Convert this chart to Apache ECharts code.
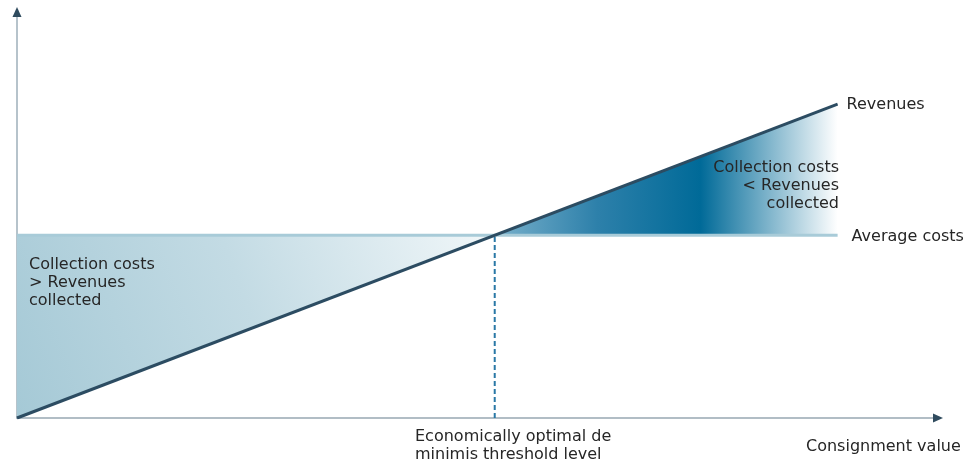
<!DOCTYPE html>
<html><head><meta charset="utf-8">
<script src="https://cdn.jsdelivr.net/npm/echarts@6/dist/echarts.min.js"></script>
<style>html,body{margin:0;padding:0;background:#fff}#c{width:967px;height:464px}</style>
</head><body><div id="c"></div>
<script>
// Data
const revenueX = [0, 89.1];
const revenueY = [0, 77.3];
const averageCosts = 45;
const thresholdX = 51.87;
const revenueLabel = 'Revenues';
const costLabel = 'Average costs';
const xAxisName = 'Consignment value';
const thresholdLabel = 'Economically optimal de\nminimis threshold level';
const leftRegionLabel = 'Collection costs\n> Revenues\ncollected';
const rightRegionLabel = 'Collection costs\n< Revenues\ncollected';

const FONT = 'DejaVu Sans';
const TXT = '#262626';
const chart = echarts.init(document.getElementById('c'));

function poly(pts, fill) {
  return function (params, api) {
    return { type: 'polygon', shape: { points: pts.map(p => api.coord(p)) }, style: { fill: fill } };
  };
}
const leftPts = [[0, 0], [0, averageCosts], [thresholdX, averageCosts]];
const rightPts = [[thresholdX, averageCosts], [revenueX[1], revenueY[1]], [revenueX[1], averageCosts]];

const hidden = { axisTick: { show: false }, axisLabel: { show: false }, splitLine: { show: false } };

chart.setOption({
  animation: false,
  grid: { left: 17, right: 29, top: 12, bottom: 46 },
  xAxis: [
    Object.assign({ type: 'value', min: 0, max: 100,
      axisLine: { show: true, lineStyle: { color: '#98a8b3', width: 1.5 } } }, hidden),
    Object.assign({ type: 'value', min: 0, max: 100, position: 'bottom',
      axisLine: { show: true, symbol: ['none', 'triangle'], symbolSize: [9, 10], lineStyle: { color: '#2f4b5e', width: 0 } } }, hidden)
  ],
  yAxis: [
    Object.assign({ type: 'value', min: 0, max: 100,
      axisLine: { show: true, lineStyle: { color: '#b6c3cb', width: 2 } } }, hidden),
    Object.assign({ type: 'value', min: 0, max: 100, position: 'left',
      axisLine: { show: true, symbol: ['none', 'triangle'], symbolSize: [9, 10], lineStyle: { color: '#2f4b5e', width: 0 } } }, hidden)
  ],
  series: [
    { type: 'custom', data: [[0, 0]], renderItem: poly(leftPts, new echarts.graphic.LinearGradient(0, 1, 1, 0, [
        { offset: 0, color: '#a5c9d6' }, { offset: 0.5, color: '#c3dbe4' }, { offset: 1, color: '#f1f7f9' }])), z: 1 },
    { type: 'custom', data: [[0, 0]], renderItem: poly(rightPts, new echarts.graphic.LinearGradient(0, 0, 1, 0, [
        { offset: 0, color: '#78b0cb' }, { offset: 0.3, color: '#2d80aa' }, { offset: 0.6, color: '#006a98' }, { offset: 1, color: '#ffffff' }])), z: 1 },
    { type: 'line', data: [[0, averageCosts], [revenueX[1], averageCosts]], symbol: 'none',
      lineStyle: { color: '#a8cbd8', width: 3 }, z: 3,
      endLabel: { show: true, formatter: costLabel, color: TXT, fontFamily: FONT, fontSize: 16, distance: 14, offset: [0, 2] } },
    { type: 'line', data: [[thresholdX, 0], [thresholdX, averageCosts]], symbol: 'none',
      lineStyle: { color: '#2a78a6', width: 2, type: [5, 3] }, z: 3 },
    { type: 'line', data: revenueX.map((x, i) => [x, revenueY[i]]), symbol: 'none',
      lineStyle: { color: '#2c4c62', width: 3 }, z: 4,
      endLabel: { show: true, formatter: revenueLabel, color: TXT, fontFamily: FONT, fontSize: 16, distance: 9, offset: [0, 1] } }
  ],
  graphic: [
    { type: 'text', z: 100, x: 29, y: 256, style: { text: leftRegionLabel, fill: TXT, font: '16px "' + FONT + '"', lineHeight: 18 } },
    { type: 'text', z: 100, x: 839, y: 159, style: { text: rightRegionLabel, fill: TXT, font: '16px "' + FONT + '"', lineHeight: 18, align: 'right' } },
    { type: 'text', z: 100, x: 415, y: 428, style: { text: thresholdLabel, fill: TXT, font: '16px "' + FONT + '"', lineHeight: 18 } },
    { type: 'text', z: 100, x: 806, y: 439, style: { text: xAxisName, fill: TXT, font: '16px "' + FONT + '"' } }
  ]
});
</script></body></html>
